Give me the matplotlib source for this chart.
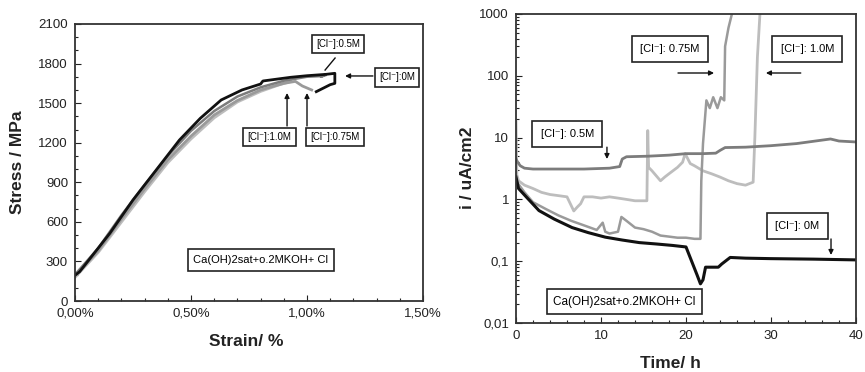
import matplotlib
matplotlib.use("Agg")
import matplotlib.pyplot as plt
from matplotlib.ticker import FuncFormatter, MultipleLocator, FixedLocator, LogLocator, NullFormatter

plt.rcParams['font.family'] = ['Liberation Sans', 'DejaVu Sans']

# ---------------- Left panel: stress-strain ----------------
strain_0M = [0, 0.02, 0.15, 0.25, 0.35, 0.45, 0.54, 0.63, 0.72, 0.80, 0.81, 0.93, 1.00, 1.08, 1.12, 1.12, 1.10, 1.04]
stress_0M = [195, 222, 513, 766, 993, 1220, 1385, 1524, 1600, 1645, 1668, 1696, 1708, 1718, 1726, 1650, 1640, 1587]

strain_05M = [0, 0.10, 0.20, 0.30, 0.40, 0.50, 0.60, 0.70, 0.80, 0.90, 1.00, 1.06, 1.08, 1.06, 1.08]
stress_05M = [200, 400, 650, 880, 1100, 1290, 1440, 1550, 1620, 1670, 1700, 1705, 1718, 1700, 1712]

strain_075M = [0, 0.10, 0.20, 0.30, 0.40, 0.50, 0.60, 0.70, 0.80, 0.90, 0.95, 0.98, 1.02]
stress_075M = [190, 380, 620, 850, 1070, 1250, 1410, 1520, 1600, 1650, 1665, 1630, 1600]

strain_10M = [0, 0.10, 0.20, 0.30, 0.40, 0.50, 0.60, 0.70, 0.80, 0.88, 0.93]
stress_10M = [180, 370, 600, 830, 1050, 1230, 1390, 1510, 1590, 1640, 1665]

x_ticks_left = [0, 0.5, 1.0, 1.5]
y_ticks_left = [0, 300, 600, 900, 1200, 1500, 1800, 2100]

# ---------------- Right panel: current density vs time ----------------
t_0M = [0, 0.3, 1.2, 2.7, 4.5, 6.6, 8.5, 10.5, 12.5, 14.5, 16.5, 18.4, 20, 21.3, 21.7, 22.0, 22.3, 23.8, 24.2, 25.2, 27, 30, 35, 40]
i_0M = [2.3, 1.5, 1.1, 0.66, 0.48, 0.35, 0.29, 0.245, 0.22, 0.2, 0.19, 0.18, 0.17, 0.06, 0.043, 0.05, 0.08, 0.08, 0.09, 0.115, 0.112, 0.11, 0.108, 0.105]

t_05M = [0, 0.2, 0.5, 1, 2, 5, 8, 11, 12.2, 12.5, 13, 15.5, 18, 20, 22, 23.5, 24, 24.6, 27, 30, 33, 37, 38, 40]
i_05M = [4.5, 4.0, 3.5, 3.2, 3.1, 3.1, 3.1, 3.2, 3.4, 4.5, 4.9, 5.0, 5.2, 5.5, 5.5, 5.6, 6.2, 6.9, 7.0, 7.4, 8.0, 9.5, 8.8, 8.5]

t_075M = [0, 1, 2, 3.5, 5, 6.5, 8, 9.5, 10.2, 10.5, 11, 12, 12.4, 13, 14, 15, 16, 17, 18, 19, 20, 21, 21.7, 21.8, 22.0, 22.4, 22.8, 23.2, 23.7, 24.1, 24.5, 24.6, 25.0, 25.4]
i_075M = [2.0, 1.3, 0.9, 0.7, 0.55, 0.45, 0.38, 0.32, 0.42, 0.3, 0.28, 0.3, 0.52, 0.45, 0.35, 0.33, 0.30, 0.26, 0.25, 0.24, 0.24, 0.23, 0.23, 2.0, 8, 40, 30, 45, 30, 45, 40, 300, 600, 1000]

t_10M = [0, 0.1, 0.3, 1, 2, 3, 4, 5, 6, 6.8, 7.2, 7.6, 8, 9, 10, 11, 12, 13, 14, 15.4, 15.5, 15.6, 16, 17, 17.5, 18, 19, 19.6, 19.9, 20.5, 21, 22, 23, 24, 25, 26, 27, 27.9, 28.1, 28.4, 28.7]
i_10M = [18, 2.5, 2.0, 1.7, 1.5, 1.3, 1.2, 1.15, 1.1, 0.65, 0.75, 0.85, 1.1, 1.1, 1.05, 1.1, 1.05, 1.0, 0.95, 0.95, 13, 3.3, 2.9, 2.0, 2.3, 2.6, 3.3, 4.0, 5.5, 3.8, 3.5, 2.9, 2.6, 2.3, 2.0, 1.8, 1.7, 1.9, 10, 200, 1000]

x_ticks_right = [0, 10, 20, 30, 40]
y_ticks_right = [0.01, 0.1, 1, 10, 100, 1000]
y_ticklabels_right = ["0,01", "0,1", "1", "10", "100", "1000"]

C_0M = "#111111"
C_05M = "#7c7c7c"
C_075M = "#9a9a9a"
C_10M = "#bdbdbd"

fig = plt.figure(figsize=(8.65, 3.72), dpi=100)

box_small = dict(boxstyle="square,pad=0.45", fc="white", ec="#222222", lw=1.2)
box_big = dict(boxstyle="square,pad=0.5", fc="white", ec="#222222", lw=1.2)
arrow = dict(arrowstyle="-|>", color="#111111", lw=1.0, mutation_scale=7, shrinkA=0, shrinkB=0)

# Left axes
ax1 = fig.add_axes([75/865, 1-301/372, 348/865, 277/372])
ax1.plot(strain_10M, stress_10M, color=C_10M, lw=2.2)
ax1.plot(strain_075M, stress_075M, color=C_075M, lw=2.0)
ax1.plot(strain_05M, stress_05M, color=C_05M, lw=1.8)
ax1.plot(strain_0M, stress_0M, color=C_0M, lw=2.0)
ax1.set_xlim(0, 1.5)
ax1.set_ylim(0, 2100)
ax1.xaxis.set_major_locator(FixedLocator(x_ticks_left))
ax1.yaxis.set_major_locator(FixedLocator(y_ticks_left))
ax1.xaxis.set_minor_locator(MultipleLocator(0.1))
ax1.yaxis.set_minor_locator(MultipleLocator(100))
ax1.xaxis.set_major_formatter(FuncFormatter(lambda v, p: f"{v:.2f}%".replace(".", ",")))
ax1.tick_params(which="both", direction="in", labelsize=9.5, colors="#222222", width=0.8)
ax1.tick_params(which="major", length=4, pad=5)
ax1.tick_params(which="minor", length=2)
for s in ax1.spines.values():
    s.set_linewidth(1.3)
    s.set_color("#333333")

ax1.annotate("", xy=(1.164, 1706), xytext=(1.284, 1706), arrowprops=arrow)
ax1.annotate("", xy=(0.914, 1577), xytext=(0.914, 1327), arrowprops=arrow)
ax1.annotate("", xy=(1.0, 1577), xytext=(1.0, 1327), arrowprops=arrow)
ax1.plot([1.121, 1.078], [1842, 1751], color="#111111", lw=1.0)
kw = dict(fontsize=7, ha="center", va="center", bbox=box_small, transform=ax1.transAxes)
ax1.text(0.756, 0.928, "[Cl⁻]:0.5M", **kw)
ax1.text(0.925, 0.807, "[Cl⁻]:0M", **kw)
ax1.text(0.559, 0.592, "[Cl⁻]:1.0M", **kw)
ax1.text(0.746, 0.592, "[Cl⁻]:0.75M", **kw)
ax1.text(0.534, 0.148, "Ca(OH)2sat+o.2MKOH+ Cl", fontsize=8, ha="center", va="center",
         bbox=box_big, transform=ax1.transAxes)

fig.text(18/865, 1-162/372, "Stress / MPa", rotation=90, fontsize=12.5, fontweight="bold",
         ha="center", va="center", color="#222222")
fig.text(246/865, 1-342/372, "Strain/ %", fontsize=12.5, fontweight="bold",
         ha="center", va="center", color="#222222")

# Right axes
ax2 = fig.add_axes([516/865, 1-323/372, 340/865, 309/372])
ax2.plot(t_10M, i_10M, color=C_10M, lw=2.0)
ax2.plot(t_075M, i_075M, color=C_075M, lw=1.8)
ax2.plot(t_05M, i_05M, color=C_05M, lw=2.0)
ax2.plot(t_0M, i_0M, color=C_0M, lw=2.2)
ax2.set_yscale("log")
ax2.set_xlim(0, 40)
ax2.set_ylim(0.01, 1000)
ax2.xaxis.set_major_locator(FixedLocator(x_ticks_right))
ax2.xaxis.set_minor_locator(MultipleLocator(2))
ax2.yaxis.set_major_locator(FixedLocator(y_ticks_right))
ax2.set_yticklabels(y_ticklabels_right)
ax2.yaxis.set_minor_locator(LogLocator(base=10, subs=range(2, 10)))
ax2.yaxis.set_minor_formatter(NullFormatter())
ax2.tick_params(which="both", direction="in", labelsize=9.5, colors="#222222", width=0.8)
ax2.tick_params(which="major", length=4, pad=5)
ax2.tick_params(which="minor", length=2)
for s in ax2.spines.values():
    s.set_linewidth(1.3)
    s.set_color("#333333")

ax2.annotate("", xy=(23.3, 111), xytext=(19.06, 111), arrowprops=arrow)
ax2.annotate("", xy=(29.4, 111), xytext=(33.5, 111), arrowprops=arrow)
ax2.annotate("", xy=(10.7, 4.5), xytext=(10.7, 7.0), arrowprops=arrow)
ax2.annotate("", xy=(37.06, 0.126), xytext=(37.06, 0.229), arrowprops=arrow)
kw2 = dict(fontsize=8, ha="center", va="center", bbox=dict(boxstyle="square,pad=0.75", fc="white", ec="#222222", lw=1.2),
           transform=ax2.transAxes)
ax2.text(0.453, 0.887, "[Cl⁻]: 0.75M", **kw2)
ax2.text(0.857, 0.887, "[Cl⁻]: 1.0M", **kw2)
ax2.text(0.151, 0.612, "[Cl⁻]: 0.5M", **kw2)
ax2.text(0.828, 0.314, "[Cl⁻]: 0M", **kw2)
ax2.text(0.319, 0.068, "Ca(OH)2sat+o.2MKOH+ Cl", fontsize=8.5, ha="center", va="center",
         bbox=dict(boxstyle="square,pad=0.55", fc="white", ec="#222222", lw=1.2), transform=ax2.transAxes)

fig.text(468/865, 1-168/372, "i / uA/cm2", rotation=90, fontsize=12.5, fontweight="bold",
         ha="center", va="center", color="#222222")
fig.text(670/865, 1-363/372, "Time/ h", fontsize=12.5, fontweight="bold",
         ha="center", va="center", color="#222222")

fig.savefig("out.png", dpi=100)
